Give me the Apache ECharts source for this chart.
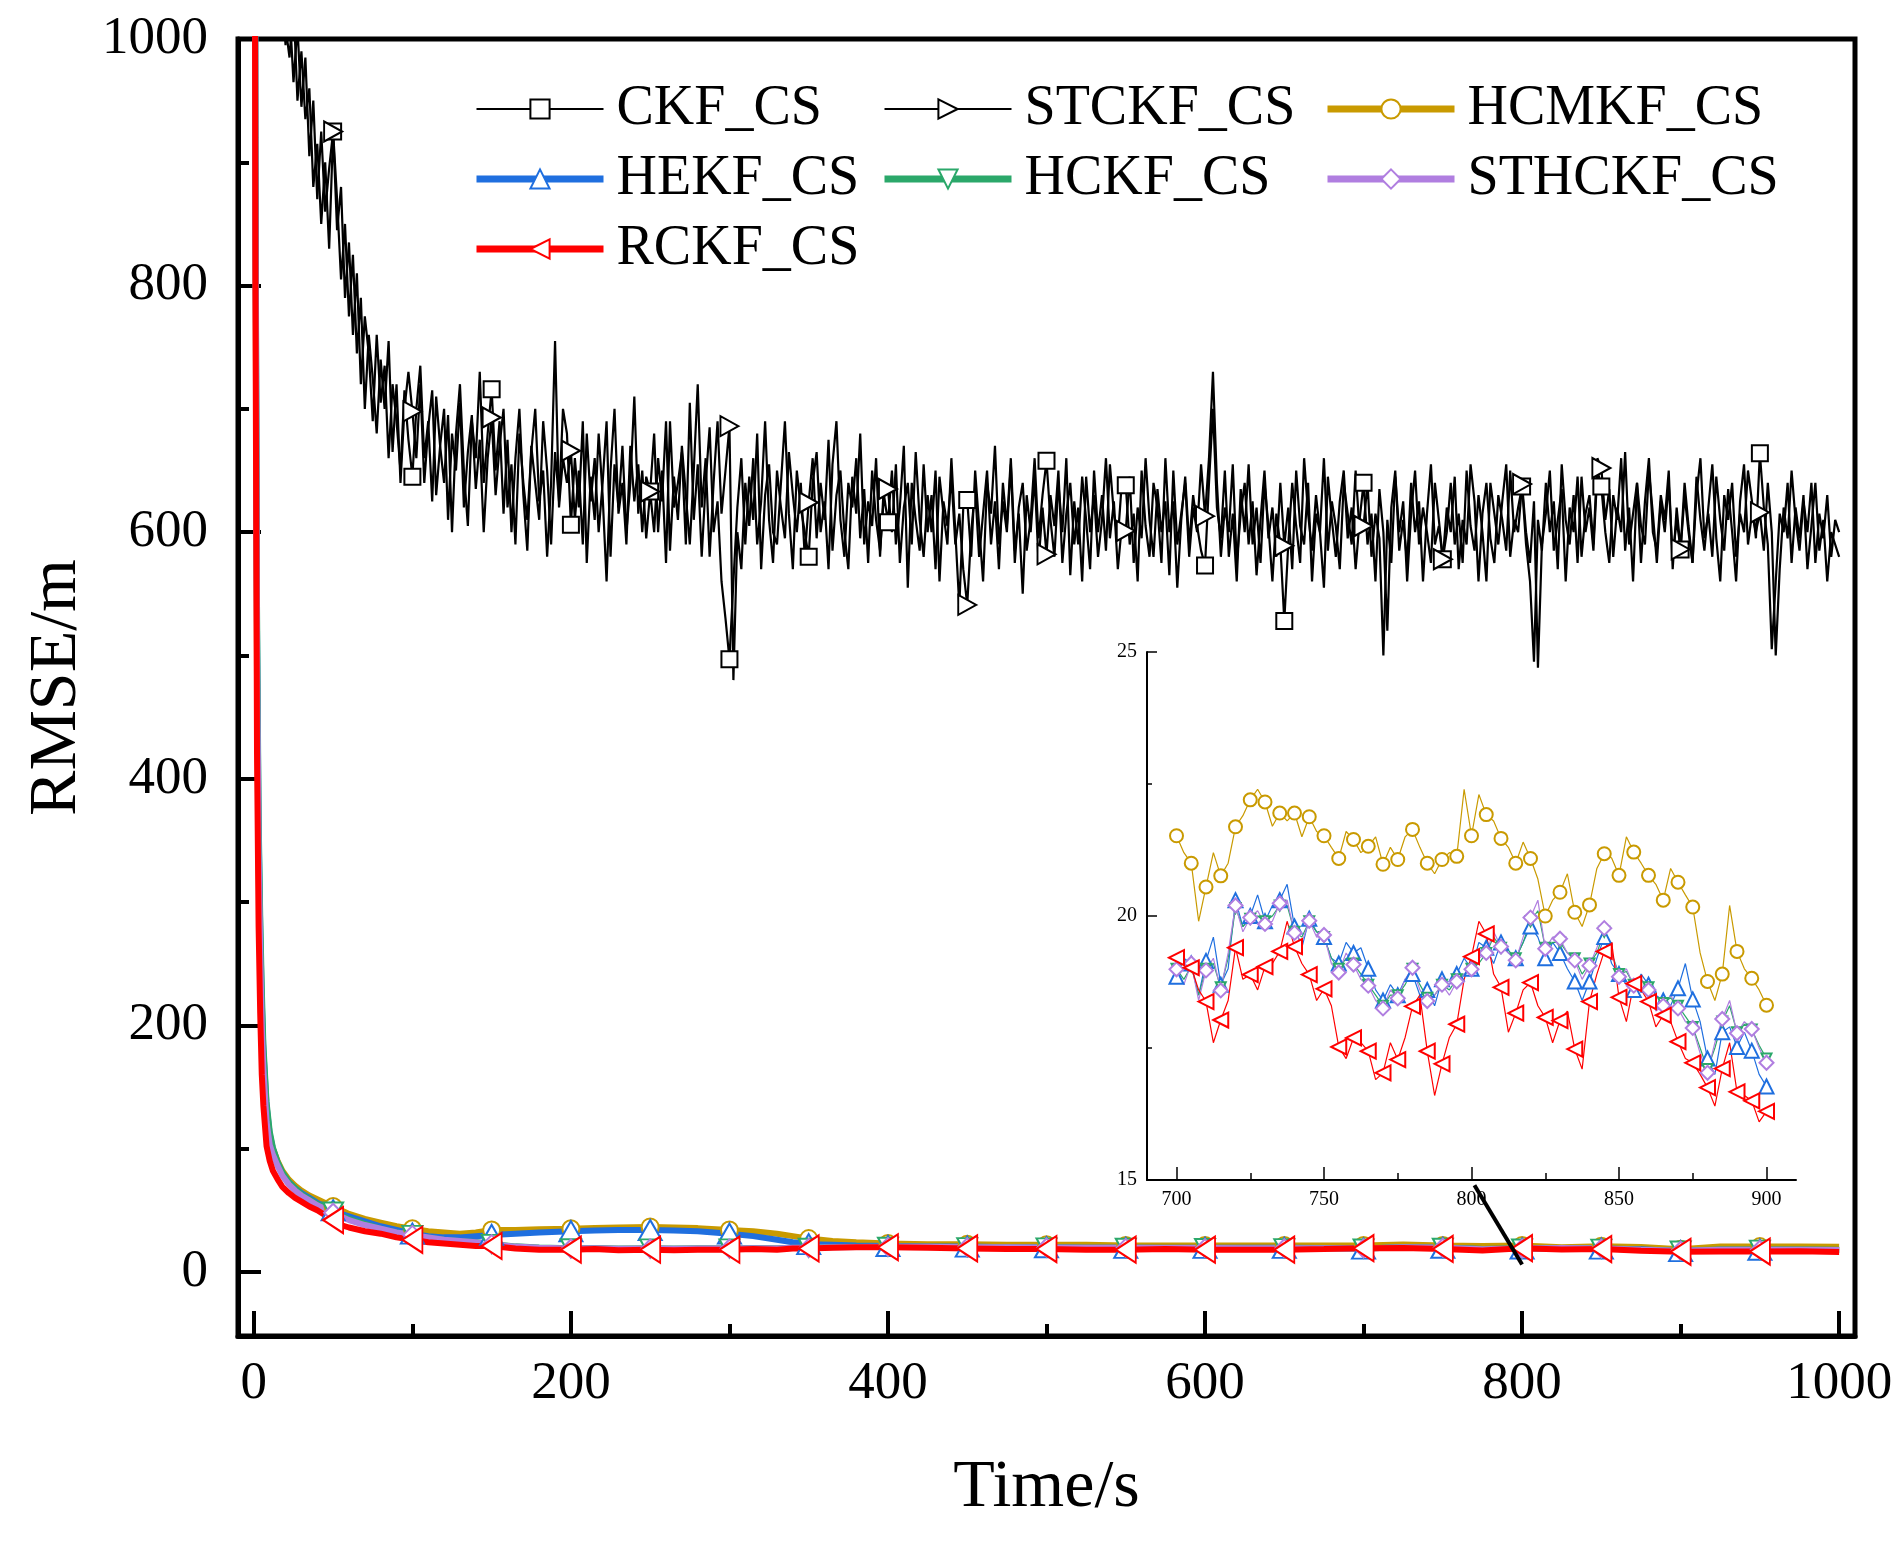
<!DOCTYPE html>
<html>
<head>
<meta charset="utf-8">
<title>RMSE</title>
<script src="https://cdn.jsdelivr.net/npm/echarts@6/dist/echarts.min.js"></script>
<style>
  html, body { margin: 0; padding: 0; background: #fff; }
  #chart { width: 1901px; height: 1546px; }
</style>
</head>
<body>
<div id="chart"></div>
<script>
// black noisy curves, one sample every 2.5 s from t = 0
const blackStep = 2.5;
const ckfRmse = [
  3200, 2600, 2150, 1800, 1520, 1310, 1160, 1060, 1010, 985, 1030, 950, 990, 935, 960, 880, 915, 850, 900, 830,
  925, 845, 880, 790, 835, 760, 810, 720, 775, 745, 690, 760, 705, 735, 660, 720, 690, 650, 715, 675,
  645, 700, 735, 660, 690, 625, 710, 670, 640, 695, 600, 680, 720, 650, 605, 690, 660, 730, 640, 680,
  716, 650, 690, 615, 675, 600, 660, 700, 630, 585, 670, 640, 610, 690, 650, 590, 665, 625, 700, 680,
  606, 660, 620, 690, 575, 645, 610, 680, 630, 560, 650, 700, 615, 640, 590, 670, 625, 655, 600, 645,
  633, 680, 600, 650, 575, 690, 620, 640, 665, 590, 705, 610, 655, 580, 640, 685, 600, 625, 560, 530,
  497, 560, 620, 660, 590, 645, 610, 680, 570, 630, 655, 600, 590, 640, 690, 615, 570, 650, 620, 600,
  580, 640, 665, 600, 625, 570, 655, 690, 610, 580, 640, 620, 660, 595, 635, 575, 650, 610, 585, 630,
  608, 650, 590, 620, 670, 555, 640, 610, 585, 655, 600, 630, 570, 645, 615, 590, 660, 600, 540, 620,
  626, 580, 650, 605, 560, 640, 615, 670, 590, 625, 600, 655, 575, 620, 640, 585, 610, 660, 595, 630,
  658, 610, 580, 640, 600, 660, 565, 625, 590, 645, 610, 570, 650, 600, 630, 585, 655, 615, 595, 640,
  638, 590, 615, 560, 650, 605, 580, 640, 620, 575, 660, 600, 625, 555, 610, 645, 590, 630, 605, 585,
  573, 640, 700, 620, 595, 650, 580, 615, 560, 635, 600, 655, 590, 620, 575, 640, 605, 560, 615, 590,
  528, 590, 640, 605, 575, 660, 615, 585, 630, 600, 555, 645, 610, 580, 625, 650, 595, 620, 570, 610,
  640, 590, 615, 560, 635, 600, 520, 620, 650, 585, 610, 575, 640, 600, 625, 560, 615, 655, 590, 605,
  578, 620, 600, 645, 570, 610, 590, 655, 625, 560, 615, 640, 595, 575, 630, 610, 585, 650, 600, 620,
  637, 590, 560, 495, 610, 585, 640, 600, 625, 570, 655, 610, 590, 630, 575, 645, 600, 620, 585, 650,
  637, 600, 575, 630, 610, 660, 585, 620, 560, 640, 605, 590, 650, 615, 575, 625, 600, 640, 580, 610,
  586, 630, 600, 575, 645, 610, 585, 620, 655, 595, 560, 630, 610, 640, 580, 615, 600, 650, 625, 595,
  664, 620, 590, 505, 560, 615, 600, 640, 575, 620, 595, 630, 570, 605, 640, 585, 610, 560, 600, 590,
  580
];
const stckfRmse = [
  3000, 2450, 2050, 1720, 1460, 1270, 1130, 1040, 995, 1025, 965, 1010, 945, 985, 905, 950, 870, 925, 860, 895,
  925, 870, 805, 850, 775, 825, 745, 790, 700, 760, 725, 680, 740, 700, 755, 665, 720, 640, 700, 730,
  698, 660, 720, 640, 685, 715, 630, 670, 700, 610, 680, 650, 705, 620, 665, 695, 635, 675, 600, 660,
  693, 630, 670, 700, 620, 655, 590, 680, 640, 610, 665, 700, 625, 650, 580, 640, 755, 620, 660, 640,
  666, 610, 650, 590, 680, 625, 660, 600, 640, 690, 580, 655, 620, 670, 600, 640, 710, 615, 650, 595,
  633, 600, 660, 625, 690, 585, 645, 610, 670, 630, 590, 650, 720, 620, 660, 580, 640, 690, 615, 650,
  686, 480, 600, 570, 640, 605, 660, 590, 625, 690, 610, 575, 650, 620, 595, 665, 630, 600, 640, 580,
  624, 660, 595, 640, 610, 675, 585, 630, 650, 600, 570, 645, 615, 680, 590, 625, 605, 660, 580, 640,
  635, 600, 655, 575, 620, 640, 590, 665, 610, 580, 630, 600, 650, 560, 625, 605, 645, 590, 615, 570,
  541, 600, 635, 580, 615, 650, 590, 625, 570, 640, 605, 660, 585, 615, 550, 630, 600, 645, 575, 620,
  582, 630, 605, 650, 575, 615, 640, 590, 620, 560, 645, 600, 630, 580, 610, 660, 595, 625, 570, 605,
  601, 645, 575, 620, 595, 660, 610, 580, 635, 600, 625, 565, 650, 590, 615, 640, 580, 620, 600, 655,
  613, 660, 730, 640, 580, 620, 600, 655, 575, 615, 640, 590, 625, 565, 610, 650, 595, 620, 580, 640,
  589, 620, 570, 650, 605, 590, 640, 560, 615, 600, 660, 585, 625, 605, 570, 640, 615, 590, 650, 600,
  605, 640, 580, 615, 595, 500, 610, 575, 645, 600, 625, 560, 615, 650, 590, 620, 600, 575, 640, 610,
  578, 600, 640, 590, 615, 575, 650, 605, 585, 630, 600, 560, 640, 615, 590, 625, 655, 580, 610, 600,
  639, 600, 575, 625, 490, 590, 615, 650, 585, 610, 635, 560, 620, 600, 645, 580, 615, 630, 590, 660,
  652, 610, 635, 580, 620, 600, 665, 590, 615, 640, 575, 625, 660, 600, 585, 630, 610, 650, 570, 620,
  586, 640, 605, 575, 630, 660, 595, 615, 580, 645, 610, 585, 635, 600, 560, 625, 655, 590, 615, 600,
  616, 585, 640, 600, 500, 570, 620, 595, 650, 610, 585, 625, 600, 640, 575, 615, 595, 630, 580, 610,
  600
];

// colored curves on the main plot
const mainTimes = [
  0, 1, 2, 3, 4, 5, 6, 8, 10, 12, 15, 18, 22, 26, 30, 35, 40, 45, 50, 55,
  60, 70, 80, 90, 100, 110, 120, 130, 140, 150, 165, 180, 200, 215, 230, 250, 265, 280, 300, 315,
  330, 340, 350, 365, 380, 400, 425, 450, 475, 500, 525, 550, 575, 600, 625, 650, 675, 700, 725, 750,
  775, 800, 825, 850, 875, 900, 925, 950, 975, 1000
];
const hcmkfMain = [
  1600, 850, 480, 330, 250, 190, 160, 125, 108, 100, 90, 82, 75, 70, 66, 62, 59, 56, 53, 50,
  47, 43, 40, 37, 35, 33, 32, 31, 32, 34, 34, 34.5, 35, 35.5, 36, 36.5, 36, 35.5, 34, 33,
  31, 29, 27, 25, 24, 23, 22.5, 22.5, 22, 22, 22, 21.5, 21.5, 21.5, 21.5, 21.5, 21.5, 21.5, 22.2, 21.5,
  21.1, 21.5, 20, 20.8, 20.2, 18.3, 20.5, 20.5, 20.5, 20.3
];
const hekfMain = [
  1700, 900, 520, 360, 280, 220, 180, 135, 112, 100, 88, 80, 73, 68, 64, 60, 56, 53, 50, 47,
  45, 41, 37, 34, 31, 29, 28, 28, 29, 30, 31, 32, 33, 33.5, 34, 34, 33.5, 33, 31, 29,
  26, 24, 22.5, 22, 21.5, 21, 20.5, 20.5, 20, 20, 19.5, 19.5, 19.5, 19.5, 19.5, 19.5, 19.3, 18.9, 20.0, 19.6,
  18.5, 19.0, 19.2, 18.9, 18.4, 16.8, 18, 18, 18, 17.8
];
const hckfMain = [
  1700, 920, 540, 370, 290, 230, 185, 138, 114, 101, 89, 81, 73, 68, 63, 59, 55, 52, 49, 46,
  43, 39, 35, 32, 30, 28, 26, 25, 24.2, 22.7, 20.7, 19.7, 19.2, 19.3, 19, 19.1, 19, 19.1, 19.1, 19.3,
  19.1, 19.6, 19.6, 20.1, 20.3, 20.4, 20.4, 20.1, 20.1, 19.9, 19.6, 19.6, 19.4, 19.4, 19.3, 19.3, 19.2, 19.0, 20.0, 19.6,
  18.5, 19.0, 19.4, 18.9, 17.9, 17.3, 18.1, 18.1, 18.1, 17.9
];
const sthckfMain = [
  1650, 870, 500, 340, 260, 200, 165, 122, 103, 95, 86, 78, 71, 66, 62, 58, 54, 51, 48, 45,
  42, 38, 35, 32, 30, 28, 26, 25, 24, 22.5, 20.5, 19.5, 19, 19.2, 18.8, 19, 18.8, 19, 19, 19.2,
  19, 19.5, 19.5, 20, 20.2, 20.3, 20.3, 20, 20, 19.8, 19.5, 19.5, 19.3, 19.3, 19.2, 19.2, 19.1, 19.0, 20.0, 19.6,
  18.4, 19.0, 19.4, 18.9, 17.9, 17.2, 18, 18, 18, 17.8
];
const rckfMain = [
  1600, 800, 420, 280, 210, 160, 135, 102, 90, 82, 75, 69, 64, 60, 57, 53, 50, 46, 42, 38,
  36, 33, 31, 28, 26, 24, 23, 22, 21, 21, 19, 18, 18, 18.5, 17.5, 18, 17.5, 18, 18, 18.5,
  18, 19, 19, 19.5, 20, 20, 19.5, 19, 18.5, 18.5, 18, 18, 18.5, 18, 18, 18, 18.5, 19.2, 19.4, 18.6,
  17.3, 19.2, 18.1, 18.5, 17.2, 16.3, 16.5, 16.5, 16.8, 16.2
];

// inset: 700-900 s, one sample every 2.5 s
const zoomStart = 700;
const zoomStep = 2.5;
const hcmkfZoom = [
  21.52, 21.2, 21.0, 19.9, 20.55, 21.2, 20.76, 21.0, 21.69, 21.9, 22.2, 22.4, 22.16, 21.7, 21.95, 21.8, 21.95, 21.5, 21.88, 21.6,
  21.52, 21.3, 21.09, 21.6, 21.45, 21.2, 21.32, 21.5, 20.98, 21.3, 21.07, 21.5, 21.64, 21.3, 21.0, 20.8, 21.07, 21.2, 21.13, 22.4,
  21.52, 22.3, 21.92, 21.8, 21.47, 21.3, 21.0, 21.4, 21.09, 20.7, 20.0, 20.3, 20.45, 20.8, 20.07, 19.8, 20.21, 20.9, 21.18, 21.1,
  20.77, 21.5, 21.21, 21.0, 20.77, 20.6, 20.3, 20.9, 20.64, 20.4, 20.17, 19.3, 18.76, 18.4, 18.9, 20.2, 19.33, 19.0, 18.82, 18.6,
  18.31
];
const hekfZoom = [
  18.85, 19.2, 19.1, 18.5, 19.15, 19.6, 18.7, 19.0, 20.3, 19.8, 20.0, 20.4, 19.9, 20.2, 20.3, 20.6, 19.8, 19.4, 19.95, 19.7,
  19.6, 19.2, 19.1, 19.5, 19.3, 19.4, 19.0, 18.6, 18.4, 18.7, 18.5, 18.8, 18.9, 18.5, 18.6, 18.3, 18.8, 18.7, 18.9, 19.2,
  19.0, 19.5, 19.4, 19.1, 19.5, 19.3, 19.2, 19.5, 19.8, 19.6, 19.2, 19.5, 19.3, 19.0, 18.76, 18.4, 18.76, 19.2, 19.6, 19.1,
  18.9, 18.7, 18.6, 18.9, 18.7, 18.5, 18.4, 18.3, 18.63, 19.1, 18.42, 18.0, 17.3, 17.0, 17.8, 17.9, 17.52, 17.8, 17.45, 17.0,
  16.77
];
const hckfZoom = [
  19.0, 18.8, 19.05, 18.5, 19.0, 19.1, 18.65, 19.2, 20.15, 19.8, 19.95, 20.0, 19.9, 20.0, 20.2, 20.2, 19.7, 19.6, 19.9, 19.7,
  19.6, 19.2, 19.0, 19.2, 19.1, 18.9, 18.7, 18.5, 18.3, 18.5, 18.5, 18.7, 19.0, 18.7, 18.45, 18.5, 18.7, 18.6, 18.8, 18.9,
  19.0, 19.1, 19.3, 19.6, 19.4, 19.35, 19.2, 19.5, 19.9, 20.1, 19.4, 19.5, 19.5, 19.3, 19.2, 18.9, 19.1, 19.3, 19.7, 19.3,
  18.9, 18.95, 18.7, 18.8, 18.65, 18.3, 18.35, 18.45, 18.3, 18.1, 17.9, 17.5, 17.1, 17.5, 18.0, 18.3, 17.8, 17.95, 17.85, 17.55,
  17.3
];
const sthckfZoom = [
  18.99, 18.7, 19.1, 18.4, 18.97, 19.2, 18.59, 19.3, 20.2, 19.7, 19.97, 20.1, 19.85, 19.9, 20.24, 20.3, 19.68, 19.5, 19.91, 19.6,
  19.64, 19.1, 18.93, 19.3, 19.08, 18.8, 18.68, 18.4, 18.25, 18.6, 18.44, 18.8, 19.02, 18.6, 18.39, 18.5, 18.7, 18.5, 18.76, 18.9,
  18.99, 19.2, 19.3, 19.7, 19.42, 19.3, 19.16, 19.6, 19.97, 20.3, 19.38, 19.6, 19.57, 19.3, 19.16, 18.8, 19.06, 19.4, 19.77, 19.3,
  18.85, 19.0, 18.68, 18.8, 18.6, 18.2, 18.3, 18.5, 18.25, 18.0, 17.88, 17.4, 17.03, 17.6, 18.05, 18.4, 17.78, 18.0, 17.86, 17.5,
  17.22
];
const rckfZoom = [
  19.21, 19.1, 19.02, 18.6, 18.38, 17.6, 18.03, 18.4, 19.4, 18.8, 18.89, 18.6, 19.04, 19.1, 19.33, 19.9, 19.42, 19.1, 18.89, 18.4,
  18.62, 18.3, 17.52, 17.3, 17.69, 17.6, 17.44, 16.9, 17.03, 17.6, 17.28, 17.7, 18.29, 18.5, 17.44, 16.6, 17.2, 17.7, 17.95, 18.8,
  19.23, 19.9, 19.66, 18.9, 18.65, 17.8, 18.16, 18.6, 18.74, 18.3, 18.08, 17.6, 18.02, 18.2, 17.48, 17.1, 18.38, 18.9, 19.33, 19.5,
  18.46, 18.0, 18.72, 18.6, 18.38, 17.9, 18.12, 18.0, 17.62, 17.3, 17.22, 17.0, 16.75, 16.4, 17.11, 17.6, 16.67, 16.6, 16.5, 16.1,
  16.3
];

// tick values
const mainXTicks = [0, 200, 400, 600, 800, 1000];
const mainXMinor = [100, 300, 500, 700, 900];
const mainYTicks = [0, 200, 400, 600, 800, 1000];
const mainYMinor = [100, 300, 500, 700, 900];
const zoomXTicks = [700, 750, 800, 850, 900];
const zoomXMinor = [725, 775, 825, 875];
const zoomYTicks = [15, 20, 25];
const zoomYMinor = [17.5, 22.5];

// pointer from the inset down to the main curves
const arrowFrom = [801, 14.9];
const arrowTo = [800, 6];

const serif = 'Liberation Serif';
const chart = echarts.init(document.getElementById('chart'), null, { renderer: 'canvas' });

function toPoints(times, values, isMark) {
  return values.map((v, i) => {
    const t = times[i];
    return isMark(t) ? [t, v] : { value: [t, v], symbol: 'none' };
  });
}

const blackTimes = ckfRmse.map((_, i) => i * blackStep);
const zoomTimes = hcmkfZoom.map((_, i) => zoomStart + i * zoomStep);
const mainMark = t => t > 0 && t < 1000 && t % 50 === 0;
const zoomMark = t => t % 5 === 0;
const plain = v => String(v);

function mainLine(name, color, symbol, rotate, size, width, times, values) {
  return {
    name: name, type: 'line', xAxisIndex: 0, yAxisIndex: 0,
    data: toPoints(times, values, mainMark),
    symbol: symbol, symbolRotate: rotate, symbolSize: size,
    showAllSymbol: true, color: color,
    lineStyle: { color: color, width: width },
    itemStyle: { color: color, borderWidth: 1.6 },
    emphasis: { disabled: true }, silent: true
  };
}

function zoomLine(name, color, symbol, rotate, size, values) {
  return {
    name: name, type: 'line', xAxisIndex: 1, yAxisIndex: 1,
    data: toPoints(zoomTimes, values, zoomMark),
    symbol: symbol, symbolRotate: rotate, symbolSize: size,
    showAllSymbol: true, color: color,
    lineStyle: { color: color, width: 1.2 },
    itemStyle: { color: color, borderWidth: 1.2 },
    emphasis: { disabled: true }, silent: true
  };
}

const gold = '#C99A00';
const blue = '#1F6FDF';
const green = '#2BA86A';
const purple = '#B07EE0';
const red = '#FF0000';

function legendCol(left, items) {
  return {
    orient: 'vertical', left: left, top: 81, padding: 0,
    itemWidth: 127, itemHeight: 24, itemGap: 14,
    selectedMode: false,
    data: items.map(it => ({ name: it[0], lineStyle: { width: it[1] } })),
    textStyle: { fontFamily: serif, fontSize: 56, color: '#000', lineHeight: 56, padding: [0, 0, 0, 8] }
  };
}

const tickLine = { color: '#000', width: 4 };
const thinTick = { color: '#000', width: 1.5 };

chart.setOption({
  animation: false,
  backgroundColor: '#fff',
  textStyle: { fontFamily: serif },
  grid: [
    { left: 238, right: 46, top: 39, bottom: 210, outerBoundsMode: 'none', containLabel: false,
      show: true, borderColor: '#000', borderWidth: 5 },
    { left: 1147, right: 105, top: 652, bottom: 366, outerBoundsMode: 'none', containLabel: false }
  ],
  legend: [
    legendCol(473, [['CKF_CS', 2], ['HEKF_CS', 7], ['RCKF_CS', 7]]),
    legendCol(881, [['STCKF_CS', 2], ['HCKF_CS', 7]]),
    legendCol(1324, [['HCMKF_CS', 7], ['STHCKF_CS', 7]])
  ],
  xAxis: [
    {
      gridIndex: 0, type: 'value', min: -10, max: 1010, position: 'bottom',
      axisLine: { onZero: false, lineStyle: { color: '#000', width: 5 } },
      axisTick: { inside: true, length: 25, lineStyle: tickLine, customValues: mainXTicks },
      axisLabel: { customValues: mainXTicks, formatter: plain, fontFamily: serif, fontSize: 53, color: '#000', margin: 22 },
      splitLine: { show: false },
      name: 'Time/s', nameLocation: 'middle', nameGap: 118,
      nameTextStyle: { fontFamily: serif, fontSize: 68, color: '#000' }
    },
    {
      gridIndex: 1, type: 'value', min: 690, max: 910, position: 'bottom',
      axisLine: { onZero: false, lineStyle: { color: '#000', width: 2 } },
      axisTick: { inside: true, length: 13, lineStyle: thinTick, customValues: zoomXTicks },
      axisLabel: { customValues: zoomXTicks, formatter: plain, fontFamily: serif, fontSize: 20, color: '#000', margin: 10 },
      splitLine: { show: false }
    },
    {
      gridIndex: 0, type: 'value', min: -10, max: 1010, position: 'bottom',
      axisLine: { show: false, onZero: false },
      axisTick: { inside: true, length: 12, lineStyle: tickLine, customValues: mainXMinor },
      axisLabel: { show: false }, splitLine: { show: false }
    },
    {
      gridIndex: 1, type: 'value', min: 690, max: 910, position: 'bottom',
      axisLine: { show: false, onZero: false },
      axisTick: { inside: true, length: 7, lineStyle: thinTick, customValues: zoomXMinor },
      axisLabel: { show: false }, splitLine: { show: false }
    }
  ],
  yAxis: [
    {
      gridIndex: 0, type: 'value', min: -52, max: 1000, position: 'left',
      axisLine: { show: true, onZero: false, lineStyle: { color: '#000', width: 5 } },
      axisTick: { show: true, inside: true, length: 23, lineStyle: tickLine, customValues: mainYTicks },
      axisLabel: { customValues: mainYTicks, formatter: plain, fontFamily: serif, fontSize: 53, color: '#000', margin: 30 },
      splitLine: { show: false },
      name: 'RMSE/m', nameLocation: 'middle', nameGap: 141,
      nameTextStyle: { fontFamily: serif, fontSize: 68, color: '#000' }
    },
    {
      gridIndex: 1, type: 'value', min: 15, max: 25, position: 'left',
      axisLine: { show: true, onZero: false, lineStyle: { color: '#000', width: 2 } },
      axisTick: { show: true, inside: true, length: 10, lineStyle: thinTick, customValues: zoomYTicks },
      axisLabel: { customValues: zoomYTicks, formatter: plain, fontFamily: serif, fontSize: 20, color: '#000', margin: 10 },
      splitLine: { show: false }
    },
    {
      gridIndex: 0, type: 'value', min: -52, max: 1000, position: 'left',
      axisLine: { show: false, onZero: false },
      axisTick: { show: true, inside: true, length: 11, lineStyle: tickLine, customValues: mainYMinor },
      axisLabel: { show: false }, splitLine: { show: false }
    },
    {
      gridIndex: 1, type: 'value', min: 15, max: 25, position: 'left',
      axisLine: { show: false, onZero: false },
      axisTick: { show: true, inside: true, length: 5, lineStyle: thinTick, customValues: zoomYMinor },
      axisLabel: { show: false }, splitLine: { show: false }
    }
  ],
  series: [
    mainLine('CKF_CS', '#000', 'emptyRect', 0, 16, 2.2, blackTimes, ckfRmse),
    mainLine('STCKF_CS', '#000', 'emptyTriangle', -90, [20, 18], 2.2, blackTimes, stckfRmse),
    mainLine('HCMKF_CS', gold, 'emptyCircle', 0, 17, 6, mainTimes, hcmkfMain),
    mainLine('HEKF_CS', blue, 'emptyTriangle', 0, [23, 20], 6, mainTimes, hekfMain),
    mainLine('HCKF_CS', green, 'emptyTriangle', 180, [20, 18], 6, mainTimes, hckfMain),
    mainLine('STHCKF_CS', purple, 'emptyDiamond', 0, 18, 6, mainTimes, sthckfMain),
    mainLine('RCKF_CS', red, 'emptyTriangle', 90, [26, 20], 6, mainTimes, rckfMain),
    zoomLine('HCMKF_CS', gold, 'emptyCircle', 0, 13, hcmkfZoom),
    zoomLine('HEKF_CS', blue, 'emptyTriangle', 0, 14, hekfZoom),
    zoomLine('HCKF_CS', green, 'emptyTriangle', 180, 10, hckfZoom),
    zoomLine('STHCKF_CS', purple, 'emptyDiamond', 0, 14, sthckfZoom),
    zoomLine('RCKF_CS', red, 'emptyTriangle', 90, 15, rckfZoom)
  ]
});

// pointer line between the inset and the main plot
const p1 = chart.convertToPixel({ xAxisIndex: 1, yAxisIndex: 1 }, arrowFrom);
const p2 = chart.convertToPixel({ xAxisIndex: 0, yAxisIndex: 0 }, arrowTo);
chart.setOption({
  graphic: [{
    type: 'line', z: 100, silent: true,
    shape: { x1: p1[0], y1: p1[1], x2: p2[0], y2: p2[1] },
    style: { stroke: '#000', lineWidth: 4 }
  }]
});
</script>
</body>
</html>
